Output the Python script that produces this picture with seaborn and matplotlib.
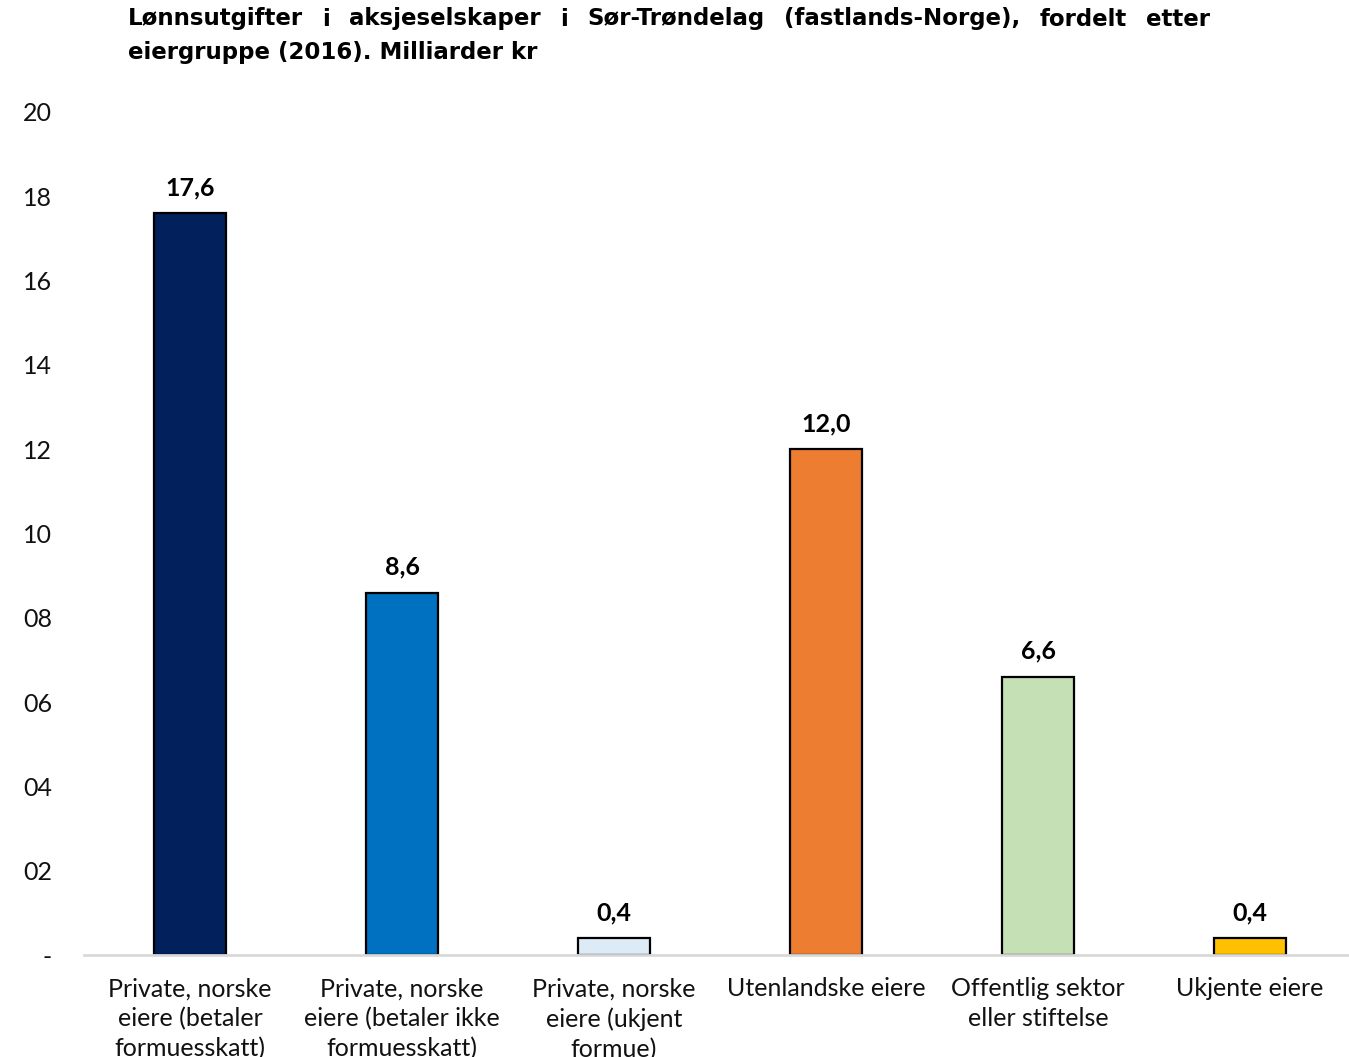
import matplotlib
matplotlib.use("Agg")
import matplotlib.pyplot as plt
import seaborn as sns
import pandas as pd

# chart data
categories = [
    "Private, norske\neiere (betaler\nformuesskatt)",
    "Private, norske\neiere (betaler ikke\nformuesskatt)",
    "Private, norske\neiere (ukjent\nformue)",
    "Utenlandske eiere",
    "Offentlig sektor\neller stiftelse",
    "Ukjente eiere",
]
values = [17.6, 8.6, 0.4, 12.0, 6.6, 0.4]
bar_colors = ["#02205C", "#0070C0", "#DDEBF7", "#ED7D31", "#C5E0B4", "#FFC000"]
y_ticks = [0, 2, 4, 6, 8, 10, 12, 14, 16, 18, 20]
y_tick_labels = ["-", "02", "04", "06", "08", "10", "12", "14", "16", "18", "20"]
title_line1 = "Lønnsutgifter i aksjeselskaper i Sør-Trøndelag (fastlands-Norge), fordelt etter"
title_line2 = "eiergruppe (2016). Milliarder kr"

sns.set_style("white")
plt.rcParams['font.family'] = ['Lato', 'DejaVu Sans']

df = pd.DataFrame({'kategori': categories, 'verdi': values})

fig = plt.figure(figsize=(13.49, 10.57), dpi=100)
ax = fig.add_axes([84 / 1349, 102 / 1057, 1272 / 1349, 843 / 1057])

sns.barplot(data=df, x='kategori', y='verdi', hue='kategori', palette=bar_colors,
            dodge=False, legend=False, width=0.335, edgecolor='black',
            linewidth=1.6, saturation=1, ax=ax)

# value labels, decimal comma
for cont in ax.containers:
    labs = []
    for bar in cont:
        i = int(round(bar.get_x() + bar.get_width() / 2))
        labs.append(f"{values[i]:.1f}".replace('.', ','))
    ax.bar_label(cont, labels=labs, padding=10, fontsize=18, fontweight='bold', color='black')

ax.set_xlim(-0.5, 5.5)
ax.set_ylim(0, 20)
ax.set_yticks(y_ticks)
ax.set_yticklabels(y_tick_labels, fontsize=18, color='#111111')
ax.tick_params(axis='y', length=0, pad=23)
ax.tick_params(axis='x', length=0, pad=16, labelsize=18, labelcolor='#111111')
for t in ax.get_xticklabels():
    t.set_linespacing(1.36)
ax.set_xlabel('')
ax.set_ylabel('')
for s in ['top', 'right', 'left']:
    ax.spines[s].set_visible(False)
ax.spines['bottom'].set_color('#D9D9D9')
ax.spines['bottom'].set_linewidth(2)

# title: size fitted to second line width, first line justified
fig.canvas.draw()
renderer = fig.canvas.get_renderer()
x0, x1 = 128, 1210
tfont = ['DejaVu Sans']
probe = fig.text(0, 0, title_line2, fontsize=16, fontweight='bold', family=tfont)
tsize = 16 * 410 / probe.get_window_extent(renderer).width
probe.remove()

words = title_line1.split(' ')
y1 = 1057 - 19
widths = []
texts = []
for w in words:
    t = fig.text(0, 0, w, fontsize=tsize, fontweight='bold', family=tfont,
                 color='black', va='center', ha='left')
    widths.append(t.get_window_extent(renderer).width)
    texts.append(t)
gap = (x1 - x0 - sum(widths)) / (len(words) - 1)
xpos = x0
for t, wd in zip(texts, widths):
    t.set_position((xpos / 1349, y1 / 1057))
    xpos += wd + gap
fig.text(x0 / 1349, (1057 - 52) / 1057, title_line2, fontsize=tsize, fontweight='bold',
         family=tfont, color='black', va='center', ha='left')

fig.savefig('out.png', dpi=100)
